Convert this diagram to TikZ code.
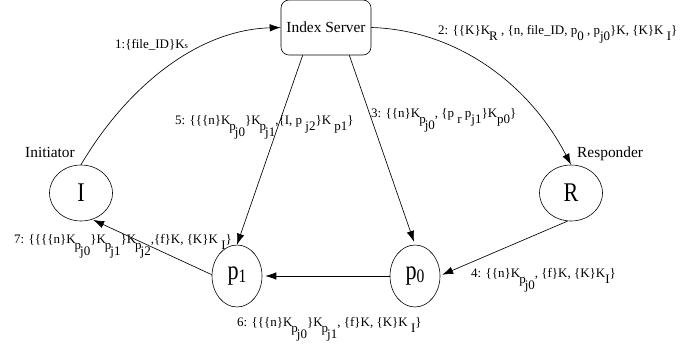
\documentclass[tikz,border=0pt]{standalone}
\usepackage{fontspec}
\usepackage{graphicx}
\setmainfont{Liberation Serif}
\usetikzlibrary{arrows.meta,shapes.geometric}
\newcommand{\lw}[1]{\raisebox{-6pt}{#1}}
\newcommand{\st}{\fontsize{13}{14}\selectfont}
\newcommand{\tall}[1]{\scalebox{0.82}[1]{#1}}
\newcommand{\sbd}[1]{{\fontsize{19}{20}\selectfont\raisebox{-3pt}{#1}}}
\tikzset{
  x=1pt,y=-1pt,
  link/.style={draw=black,line width=0.65pt,-{Latex[length=11pt,width=7.5pt]}},
  peer/.style={draw=black,line width=0.6pt,shape=ellipse,inner sep=0pt,font=\fontsize{27}{30}\selectfont},
  wide/.style={peer,minimum width=63pt,minimum height=56pt},
  highp/.style={peer,minimum width=50pt,minimum height=62pt},
  msg/.style={anchor=base west,inner sep=0pt,font=\st},
  tag/.style={anchor=base west,inner sep=0pt,font=\fontsize{15.4}{18}\selectfont},
}
\begin{document}
\begin{tikzpicture}
\useasboundingbox (0,0) rectangle (692,347);
\node[draw=black,line width=0.6pt,rounded corners=8pt,minimum width=90pt,minimum height=55pt,inner sep=0pt,font=\fontsize{15.4}{18}\selectfont] (srv) at (326,27.5) {Index Server};
\node[wide] (ini) at (81,193) {\tall{I}};
\node[wide] (res) at (571,193) {\tall{R}};
\node[highp] (p1) at (237,276) {\tall{p\sbd{1}}};
\node[highp] (p0) at (415,276) {\tall{p\sbd{0}}};
\node[tag] (tini) at (25,158) {Initiator};
\node[tag] (tres) at (577,158) {Responder};
\draw[link] (ini.90) .. controls (125,90) and (195,30) .. (srv.west);
\draw[link] (srv.east) .. controls (455,30) and (528,82) .. (res.90);
\draw[link] (srv.-130) -- (p1.90);
\draw[link,shorten >=3pt] (srv.-50) -- (p0.90);
\draw[link,shorten >=2pt] (res.-97) -- (p0.1);
\draw[link,shorten >=3pt] (p0.180) -- (p1.0);
\draw[link,shorten >=1pt] (p1.177) -- (ini.-67);
\node[msg] (m1) at (115,49) {1:\{file\_ID\}K{\fontsize{8.5}{9}\selectfont s}};
\node[msg] (m2) at (438,35) {2: \{\{K\}K\kern-1pt\lw{R} , \{n, file\_ID, p\lw{0} , p\lw{j0}\}K, \{K\}K\lw{ I}\}};
\node[msg] (m3) at (371,118) {3: \{\{n\}K\kern-1pt\lw{p\kern-1pt\lw{j0}}, \{p \lw{r} p\lw{j1}\}K\lw{p0}\}};
\node[msg] (m5) at (175,125) {5: \{\{\{n\}K\kern-1pt\lw{p\kern-1pt\lw{j0}}\}K\kern-1pt\lw{p\kern-1pt\lw{j1}},\{I, p \lw{j2}\}K \lw{p1}\}};
\node[msg] (m4) at (471,277) {4: \{\{n\}K\kern-1pt\lw{p\kern-1pt\lw{j0}}, \{f\}K, \{K\}K\lw{I}\}};
\node[msg] (m6) at (237,326) {6: \{\{\{n\}K\kern-1pt\lw{p\kern-1pt\lw{j0}}\}K\kern-1pt\lw{p\kern-1pt\lw{j1}}, \{f\}K, \{K\}K \lw{I}\}};
\node[msg] (m7) at (14,243) {7: \{\{\{\{n\}K\kern-1pt\lw{p\kern-1pt\lw{j0}}\}K\kern-1pt\lw{p\kern-1pt\lw{j1}}\}K\kern-1pt\lw{p\kern-1pt\lw{j2}},\{f\}K, \{K\}K \lw{I}\}};
\end{tikzpicture}
\end{document}
